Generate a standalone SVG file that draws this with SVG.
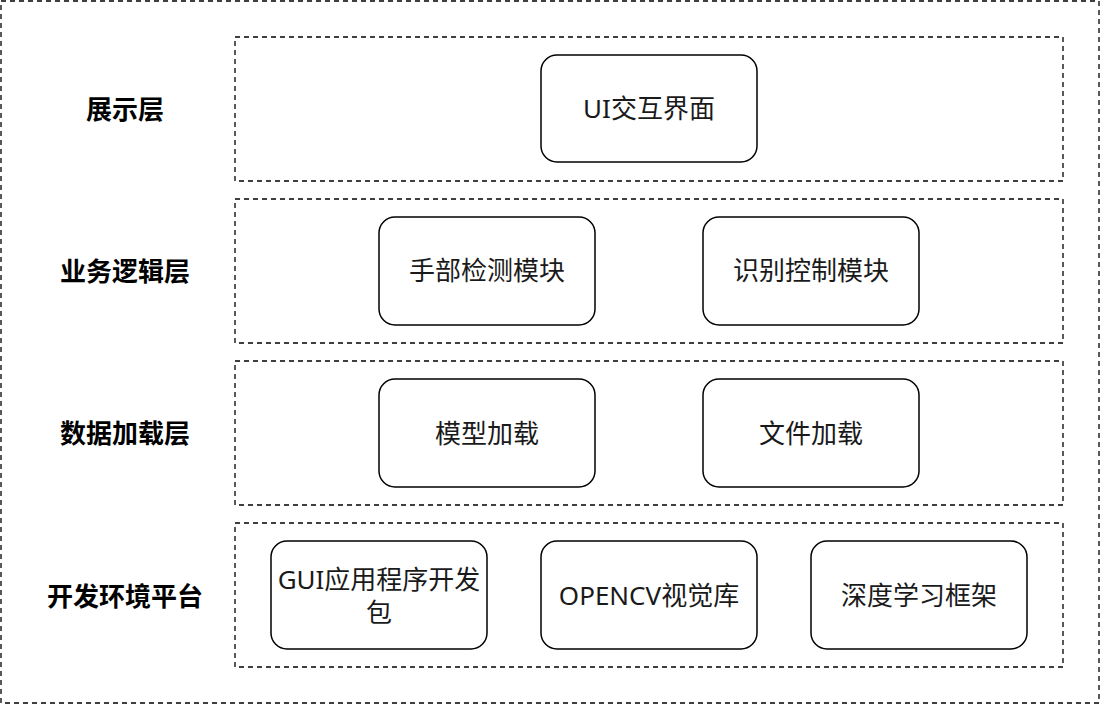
<svg xmlns="http://www.w3.org/2000/svg" width="1100" height="704" viewBox="0 0 1100 704">
<style>
.dash{fill:none;stroke:#000;stroke-width:1.3;stroke-dasharray:5 4}
.node rect{fill:#fff;stroke:#000;stroke-width:1.5}
text{font-family:"Noto Sans","Noto Sans CJK SC",sans-serif;fill:#1a1a1a;text-anchor:middle}
.n{font-size:26px}
.lab{font-size:26px;font-weight:bold;fill:#000}
</style>
<rect width="1100" height="704" fill="#fff"/>
<rect class="dash" x="1" y="1" width="1098" height="702"/>
<g id="layers">
<rect class="dash" x="235" y="37" width="828" height="144"/>
<rect class="dash" x="235" y="199" width="828" height="144"/>
<rect class="dash" x="235" y="361" width="828" height="144"/>
<rect class="dash" x="235" y="523" width="828" height="144"/>
</g>
<g id="labels">
<text class="lab" x="125" y="119">展示层</text>
<text class="lab" x="125" y="281">业务逻辑层</text>
<text class="lab" x="125" y="443">数据加载层</text>
<text class="lab" x="125" y="606">开发环境平台</text>
</g>
<g id="n_ui" class="node"><rect x="541" y="55" width="216" height="107" rx="16"/><text class="n" x="649" y="118">UI交互界面</text></g>
<g id="n_hand" class="node"><rect x="379" y="217" width="216" height="108" rx="16"/><text class="n" x="487" y="280">手部检测模块</text></g>
<g id="n_rec" class="node"><rect x="703" y="217" width="216" height="108" rx="16"/><text class="n" x="811" y="280">识别控制模块</text></g>
<g id="n_model" class="node"><rect x="379" y="379" width="216" height="108" rx="16"/><text class="n" x="487" y="443">模型加载</text></g>
<g id="n_file" class="node"><rect x="703" y="379" width="216" height="108" rx="16"/><text class="n" x="811" y="443">文件加载</text></g>
<g id="n_gui" class="node"><rect x="271" y="541" width="216" height="108" rx="16"/><text class="n" x="379" y="589">GUI应用程序开发</text><text class="n" x="379" y="622">包</text></g>
<g id="n_cv" class="node"><rect x="541" y="541" width="216" height="108" rx="16"/><text class="n" x="649" y="605">OPENCV视觉库</text></g>
<g id="n_dl" class="node"><rect x="811" y="541" width="216" height="108" rx="16"/><text class="n" x="919" y="605">深度学习框架</text></g>
<g id="connectors"/>
</svg>
